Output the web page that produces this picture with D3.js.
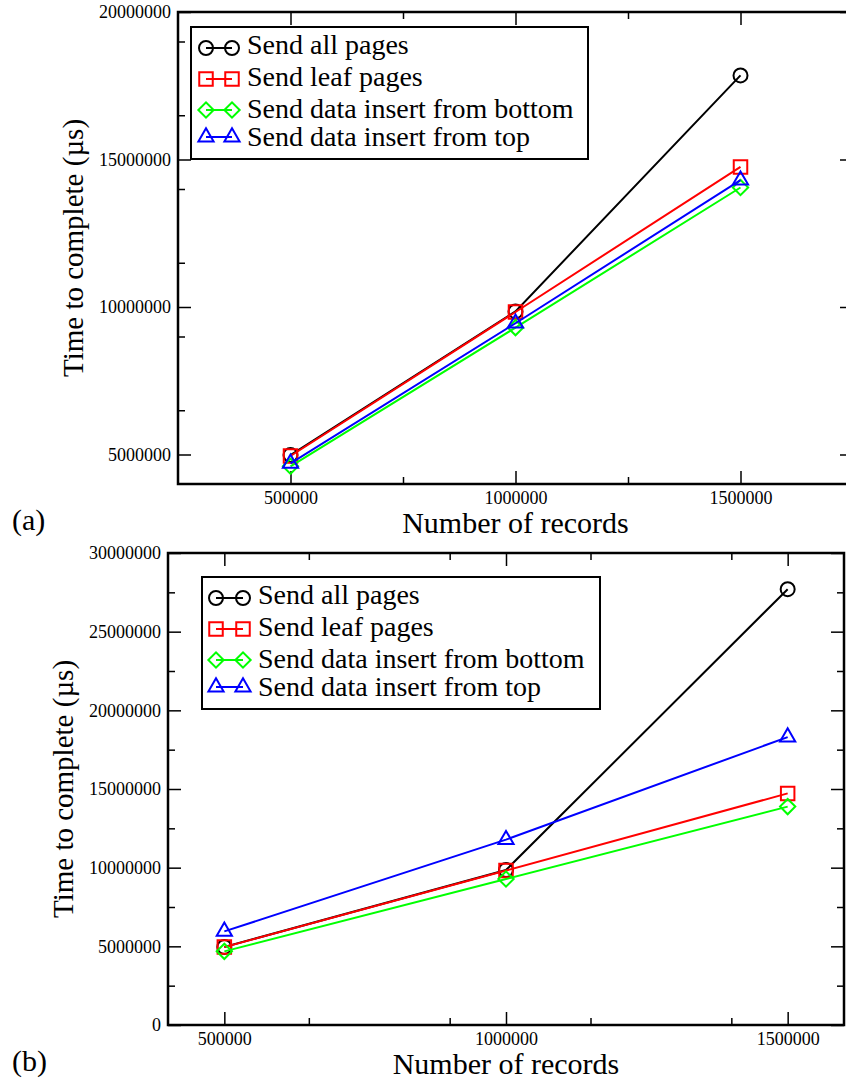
<!DOCTYPE html>
<html><head><meta charset="utf-8">
<script src="https://cdn.jsdelivr.net/npm/d3@7"></script>
<style>body{margin:0;background:#fff}svg{display:block}svg text{font-family:"Liberation Serif","Times New Roman",Times,"DejaVu Serif",serif}</style>
</head><body>
<svg id="c" width="846" height="1083"></svg>
<script>
// ---- data ----
const records = [500000, 1000000, 1500000];
const seriesNames = ["Send all pages", "Send leaf pages", "Send data insert from bottom", "Send data insert from top"];
const seriesColors = ["#000000", "#ff0000", "#00ff00", "#0000ff"];
const seriesMarkers = ["circle", "square", "diamond", "triangle"];
// chart (a)
const aAllPages = [4980000, 9850000, 17850000];
const aLeafPages = [4950000, 9830000, 14750000];
const aInsertBottom = [4600000, 9300000, 14050000];
const aInsertTop = [4700000, 9450000, 14300000];
// chart (b)
const bAllPages = [4960000, 9850000, 27700000];
const bLeafPages = [4950000, 9820000, 14720000];
const bInsertBottom = [4680000, 9280000, 13880000];
const bInsertTop = [5950000, 11780000, 18300000];
// ticks
const xTickValues = [500000, 1000000, 1500000];
const aYTickValues = [5000000, 10000000, 15000000, 20000000];
const bYTickValues = [0, 5000000, 10000000, 15000000, 20000000, 25000000, 30000000];
const xTitle = "Number of records";
const yTitle = "Time to complete (\u00b5s)";

const svg = d3.select("#c");

function marker(sel, type, color) {
  let p;
  if (type === "circle") p = d3.symbol(d3.symbolCircle, Math.PI * 49)();
  else if (type === "square") p = d3.symbol(d3.symbolSquare, 13.5 * 13.5)();
  else if (type === "diamond") p = d3.symbol(d3.symbolSquare, 10.8 * 10.8)();
  else p = d3.symbol(d3.symbolTriangle, 100)();
  return sel.append("path").attr("d", p)
    .attr("fill", "none").attr("stroke", color).attr("stroke-width", 2);
}

function drawChart(cfg) {
  const { left, right, top, bottom, xDomain, yDomain, yTicks, series, legend, label, labelY, titleY } = cfg;
  const x = d3.scaleLinear().domain(xDomain).range([left, right]);
  const y = d3.scaleLinear().domain(yDomain).range([bottom, top]);
  const g = svg.append("g");

  const xStep = xTickValues[1] - xTickValues[0];
  const xMinor = d3.range(xDomain[0], xDomain[1] + 1, xStep / 2).filter(v => !xTickValues.includes(v) && v > xDomain[0] && v < xDomain[1]);
  const yStep = yTicks[1] - yTicks[0];
  const yMinor = d3.range(yDomain[0], yDomain[1] + 1, yStep / 2).filter(v => !yTicks.includes(v) && v > yDomain[0] && v < yDomain[1]);

  const fmt = d3.format("d");
  const axB = d3.axisBottom(x).tickValues(xTickValues).tickSizeInner(-13).tickSizeOuter(0).tickFormat(fmt);
  const axT = d3.axisTop(x).tickValues(xTickValues).tickSizeInner(-13).tickSizeOuter(0).tickFormat("");
  const axL = d3.axisLeft(y).tickValues(yTicks).tickSizeInner(-13).tickSizeOuter(0).tickFormat(fmt);
  const axR = d3.axisRight(y).tickValues(yTicks).tickSizeInner(-13).tickSizeOuter(0).tickFormat("");
  const mB = d3.axisBottom(x).tickValues(xMinor).tickSizeInner(-7).tickSizeOuter(0).tickFormat("");
  const mT = d3.axisTop(x).tickValues(xMinor).tickSizeInner(-7).tickSizeOuter(0).tickFormat("");
  const mL = d3.axisLeft(y).tickValues(yMinor).tickSizeInner(-7).tickSizeOuter(0).tickFormat("");
  const mR = d3.axisRight(y).tickValues(yMinor).tickSizeInner(-7).tickSizeOuter(0).tickFormat("");

  const place = [
    [axB, `translate(0,${bottom})`], [mB, `translate(0,${bottom})`],
    [axT, `translate(0,${top})`], [mT, `translate(0,${top})`],
    [axL, `translate(${left},0)`], [mL, `translate(${left},0)`],
    [axR, `translate(${right},0)`], [mR, `translate(${right},0)`]
  ];
  place.forEach(([a, t], k) => {
    const ag = g.append("g").attr("transform", t).call(a);
    ag.select(".domain").remove();
    ag.selectAll(".tick line").attr("stroke", "#000").attr("stroke-width", 1.5);
    ag.selectAll(".tick text").attr("font-family", null).attr("font-size", 18).attr("fill", "#000");
    if (k === 0) ag.selectAll(".tick text").attr("y", 7).attr("dy", "0.71em");
    if (k === 4) ag.selectAll(".tick text").attr("x", -7).attr("dy", "0.32em");
  });
  g.selectAll(".tick text").filter(function () { return this.textContent === ""; }).remove();

  g.append("rect").attr("x", left).attr("y", top).attr("width", right - left).attr("height", bottom - top)
    .attr("fill", "none").attr("stroke", "#000").attr("stroke-width", 2.5);

  series.forEach((vals, i) => {
    const pts = records.map((r, j) => [x(r), y(vals[j])]);
    g.append("path").attr("d", d3.line()(pts)).attr("fill", "none")
      .attr("stroke", seriesColors[i]).attr("stroke-width", 2);
    pts.forEach(p => {
      marker(g, seriesMarkers[i], seriesColors[i])
        .attr("transform", `translate(${p[0]},${p[1]})` + (seriesMarkers[i] === "diamond" ? " rotate(45)" : ""));
    });
  });

  const lg = g.append("g");
  lg.append("rect").attr("x", legend.x).attr("y", legend.y).attr("width", legend.w).attr("height", legend.h)
    .attr("fill", "#fff").attr("stroke", "#000").attr("stroke-width", 2);
  const rowMark = [21, 52, 83, 110];
  const rowBase = [27, 59, 91, 119];
  seriesNames.forEach((name, i) => {
    const cy = legend.y + rowMark[i];
    const x1 = legend.x + legend.sym1, x2 = legend.x + legend.sym2;
    lg.append("line").attr("x1", x1).attr("x2", x2).attr("y1", cy).attr("y2", cy)
      .attr("stroke", seriesColors[i]).attr("stroke-width", 2);
    [x1, x2].forEach(xx => {
      marker(lg, seriesMarkers[i], seriesColors[i])
        .attr("transform", `translate(${xx},${cy})` + (seriesMarkers[i] === "diamond" ? " rotate(45)" : ""));
    });
    lg.append("text").attr("x", legend.x + legend.tx).attr("y", legend.y + rowBase[i])
      .attr("font-size", 28).attr("fill", "#000").text(name);
  });

  g.append("text").attr("x", (left + right) / 2).attr("y", titleY).attr("text-anchor", "middle")
    .attr("font-size", 30).text(xTitle);
  g.append("text").attr("transform", `translate(${cfg.yTitleX},${(top + bottom) / 2}) rotate(-90)`)
    .attr("text-anchor", "middle").attr("font-size", 29).text(yTitle);
  g.append("text").attr("x", 12).attr("y", labelY).attr("font-size", 30).text(label);
}

drawChart({
  left: 178, right: 853, top: 12, bottom: 484,
  xDomain: [250000, 1750000], yDomain: [4000000, 20000000], yTicks: aYTickValues,
  series: [aAllPages, aLeafPages, aInsertBottom, aInsertTop],
  legend: { x: 191, y: 27, w: 397, h: 132, sym1: 15, sym2: 41, tx: 56 },
  label: "(a)", labelY: 530, titleY: 533, yTitleX: 83
});
drawChart({
  left: 168, right: 844, top: 553, bottom: 1025,
  xDomain: [400000, 1600000], yDomain: [0, 30000000], yTicks: bYTickValues,
  series: [bAllPages, bLeafPages, bInsertBottom, bInsertTop],
  legend: { x: 202, y: 577, w: 398, h: 132, sym1: 14, sym2: 41, tx: 56 },
  label: "(b)", labelY: 1071, titleY: 1074, yTitleX: 73
});
</script>
</body></html>
